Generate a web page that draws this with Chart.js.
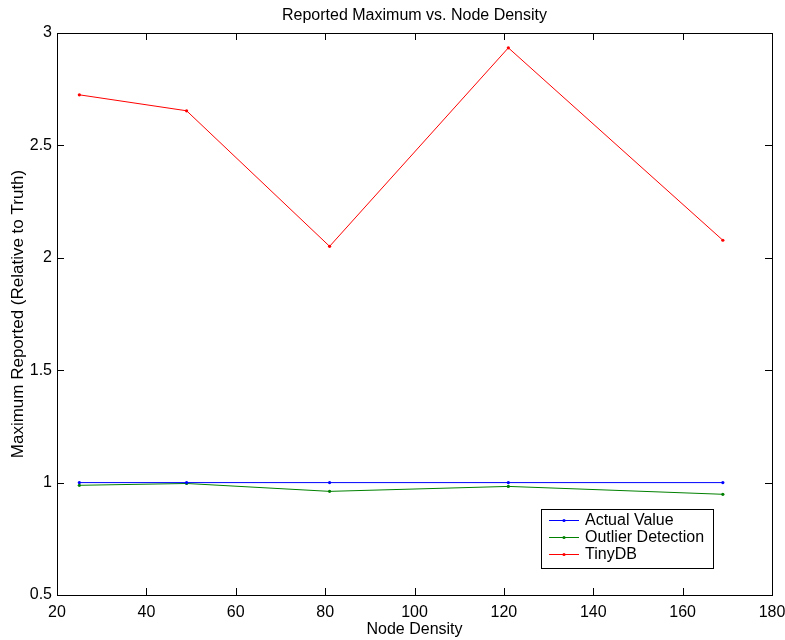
<!DOCTYPE html>
<html>
<head>
<meta charset="utf-8">
<script src="https://cdn.jsdelivr.net/npm/chart.js@4/dist/chart.umd.min.js"></script>
<style>
html,body{margin:0;padding:0;background:#fff;}
#wrap{width:785px;height:640px;}
</style>
</head>
<body>
<div id="wrap"><canvas id="c" width="785" height="640"></canvas></div>
<script>
const nodeDensity = [25, 49, 81, 121, 169];
const actualValue = [1.0, 1.0, 1.0, 1.0, 1.0];
const outlierDetection = [0.988, 0.996, 0.961, 0.983, 0.948];
const tinyDB = [2.725, 2.654, 2.051, 2.934, 2.078];
const seriesNames = ['Actual Value', 'Outlier Detection', 'TinyDB'];
const seriesColors = ['#0000ff', '#008000', '#ff0000'];
const xTicks = [20, 40, 60, 80, 100, 120, 140, 160, 180];
const yTicks = [0.5, 1, 1.5, 2, 2.5, 3];
const chartTitle = 'Reported Maximum vs. Node Density';
const xTitle = 'Node Density';
const yTitle = 'Maximum Reported (Relative to Truth)';

const FONT = '"Liberation Sans", Arial, Helvetica, sans-serif';
const allSeries = [actualValue, outlierDetection, tinyDB];

const datasets = allSeries.map((vals, i) => ({
  label: seriesNames[i],
  data: nodeDensity.map((x, j) => ({x: x, y: vals[j]})),
  borderColor: seriesColors[i],
  backgroundColor: seriesColors[i],
  borderWidth: 1,
  pointRadius: 1.6,
  pointHoverRadius: 1.6,
  pointBorderWidth: 0,
  tension: 0
}));

const boxPlugin = {
  id: 'box',
  afterDraw(chart) {
    const ctx = chart.ctx;
    const a = chart.chartArea;
    const xs = chart.scales.x, ys = chart.scales.y;
    ctx.save();
    ctx.strokeStyle = '#000';
    ctx.lineWidth = 1;
    ctx.strokeRect(Math.round(a.left) + 0.5, Math.round(a.top) + 0.5, Math.round(a.right - a.left), Math.round(a.bottom - a.top));
    const tl = 7;
    ctx.beginPath();
    xTicks.forEach(v => {
      const px = Math.round(xs.getPixelForValue(v)) + 0.5;
      ctx.moveTo(px, a.bottom); ctx.lineTo(px, a.bottom - tl);
      ctx.moveTo(px, a.top); ctx.lineTo(px, a.top + tl);
    });
    yTicks.forEach(v => {
      const py = Math.round(ys.getPixelForValue(v)) + 0.5;
      ctx.moveTo(a.left, py); ctx.lineTo(a.left + tl, py);
      ctx.moveTo(a.right, py); ctx.lineTo(a.right - tl, py);
    });
    ctx.stroke();

    // title
    ctx.fillStyle = '#000';
    ctx.font = '16px ' + FONT;
    ctx.textAlign = 'center';
    ctx.textBaseline = 'middle';
    ctx.fillText(chartTitle, (a.left + a.right) / 2, 16);

    // legend
    const lx = 541, ly = 509, lw = 172, lh = 59;
    ctx.fillStyle = '#fff';
    ctx.fillRect(lx, ly, lw, lh);
    ctx.strokeStyle = '#000';
    ctx.strokeRect(lx + 0.5, ly + 0.5, lw, lh);
    ctx.textAlign = 'left';
    chart.data.datasets.forEach((ds, i) => {
      const y = ly + 11 + i * 17;
      ctx.strokeStyle = ds.borderColor;
      ctx.beginPath();
      ctx.moveTo(lx + 8, y + 0.5); ctx.lineTo(lx + 38, y + 0.5);
      ctx.stroke();
      ctx.fillStyle = ds.borderColor;
      ctx.beginPath();
      ctx.arc(lx + 23, y + 0.5, 1.6, 0, Math.PI * 2);
      ctx.fill();
      ctx.fillStyle = '#000';
      ctx.fillText(ds.label, lx + 44, y + 1);
    });
    ctx.restore();
  }
};

new Chart(document.getElementById('c'), {
  type: 'line',
  data: { datasets: datasets },
  options: {
    responsive: false,
    animation: false,
    devicePixelRatio: 1,
    layout: { padding: { left: 0, top: 33, right: 13, bottom: 0 } },
    plugins: {
      legend: { display: false },
      title: { display: false },
      tooltip: { enabled: false }
    },
    scales: {
      x: {
        type: 'linear',
        min: 20, max: 180,
        afterBuildTicks: s => { s.ticks = xTicks.map(v => ({value: v})); },
        afterFit: s => { s.height = 45; s.paddingLeft = 0; s.paddingRight = 0; },
        grid: { display: false, drawTicks: false },
        border: { display: false },
        ticks: { color: '#000', font: { family: FONT, size: 16 }, padding: 8, maxRotation: 0, autoSkip: false },
        title: { display: true, text: xTitle, color: '#000', font: { family: FONT, size: 16 }, padding: { top: 0, bottom: 1 } }
      },
      y: {
        type: 'linear',
        min: 0.5, max: 3,
        afterBuildTicks: s => { s.ticks = yTicks.map(v => ({value: v})); },
        afterFit: s => { s.width = 57; s.paddingTop = 0; s.paddingBottom = 0; },
        grid: { display: false, drawTicks: false },
        border: { display: false },
        ticks: { color: '#000', font: { family: FONT, size: 16 }, padding: 5, callback: v => String(v) },
        title: { display: true, text: yTitle, color: '#000', font: { family: FONT, size: 17 }, padding: { top: 8, bottom: 0 } }
      }
    }
  },
  plugins: [boxPlugin]
});
</script>
</body>
</html>
